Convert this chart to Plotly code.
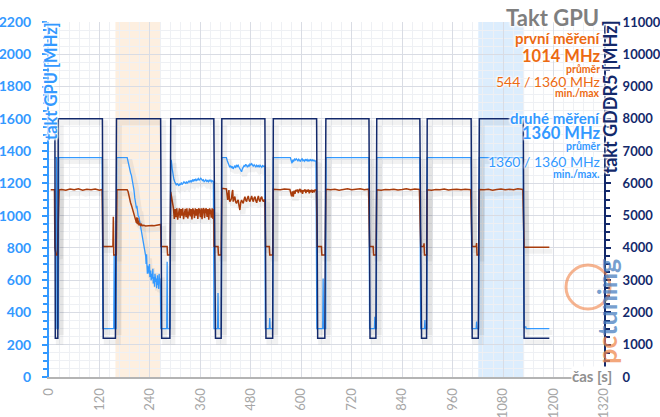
import plotly.graph_objects as go

# ---------------- data ----------------
# GDDR5 memory clock (right axis) [MHz]
mem_t = [14, 15, 21, 22, 127, 129, 158, 160.5, 265.5, 268, 287.5, 289.5, 392, 396, 409.5, 411,
         513.5, 516, 532, 533.5, 636.5, 639, 656, 658.5, 761, 763.5, 777.5, 779.5, 882, 886,
         898, 899.5, 1004, 1006.5, 1021, 1023.5, 1128, 1130, 1190]
mem_v = [8000, 1200, 1200, 8000, 8000, 1200, 1200, 8000, 8000, 1200, 1200, 8000, 8000, 1200, 1200, 8000,
         8000, 1200, 1200, 8000, 8000, 1200, 1200, 8000, 8000, 1200, 1200, 8000, 8000, 1200,
         1200, 8000, 8000, 1200, 1200, 8000, 8000, 1200, 1200]

# GPU clock - blue series [MHz]
gpu_b_t = [14, 18, 19, 22, 23, 126.5, 128, 154, 155, 156, 159.5, 161,
           186, 188, 190, 192, 194, 196, 198, 200, 202, 204, 206, 208, 209, 210, 211, 212, 214, 216, 218, 220,
           222, 224, 226, 228, 230, 231, 232, 233, 234, 235, 236, 238, 239, 240, 242, 243, 244, 246, 247, 248,
           250, 251, 252, 254, 255, 256, 258, 259, 260, 261, 262, 263, 264, 265,
           266, 280, 281, 282, 288, 289.5,
           291, 293, 295, 297, 299, 301, 303, 305, 307, 309, 311, 313, 315, 317, 319, 321, 323, 325, 327, 329,
           331, 333, 335, 337, 339, 341, 343, 345, 347, 349, 351, 353, 355, 357, 359, 361, 363, 365, 367, 369,
           371, 373, 375, 377, 379, 381, 383, 385, 387, 389, 391,
           392.5, 401, 402, 403, 410, 411,
           422, 424, 426, 428, 430, 432, 434, 436, 438, 440, 442, 444, 446, 448, 450, 452, 454, 456, 458, 460,
           462, 464, 466, 468, 470, 472, 474, 476, 478, 480, 482, 484, 486, 488, 490, 492, 494, 496, 498, 500,
           502, 504, 506, 508, 510, 512, 513.5,
           514.5, 524, 525, 526, 532, 533.5,
           574, 576, 578, 580, 582, 584, 586, 588, 590, 592, 594, 596, 598, 600, 602, 604, 606, 608, 610, 612,
           614, 616, 618, 620, 622, 624, 626, 628, 630, 632, 635,
           637, 651, 652, 653, 658, 659,
           761, 762.5, 774, 775, 776, 778.5, 779.5,
           882, 884, 893, 894, 895, 898.5, 899.5,
           1004, 1006, 1016, 1017, 1018, 1022, 1023.5,
           1128, 1130, 1131, 1134, 1135, 1190]
gpu_b_v = [1360, 1360, 300, 300, 1360, 1360, 300, 300, 760, 300, 300, 1360,
           1360, 1330, 1300, 1285, 1265, 1250, 1225, 1205, 1160, 1110, 1080, 1045, 1060, 1020, 1050, 1000, 990, 960, 930, 890,
           870, 845, 810, 780, 750, 700, 760, 690, 640, 690, 660, 640, 700, 620, 660, 600, 640, 610, 670, 580,
           620, 560, 640, 590, 610, 550, 630, 570, 600, 545, 640, 580, 610, 560,
           300, 300, 715, 300, 300, 1345,
           1340, 1290, 1250, 1225, 1210, 1195, 1188, 1200, 1192, 1185, 1198, 1190, 1205, 1195, 1200, 1210, 1205, 1198, 1212, 1200,
           1208, 1215, 1205, 1218, 1210, 1220, 1212, 1225, 1218, 1228, 1215, 1222, 1230, 1220, 1226, 1232, 1225, 1218, 1222, 1210,
           1215, 1222, 1212, 1218, 1210, 1220, 1214, 1222, 1210, 1216, 1212,
           300, 300, 520, 300, 300, 1360,
           1360, 1340, 1325, 1310, 1300, 1310, 1295, 1305, 1290, 1300, 1310, 1295, 1315, 1305, 1312, 1300, 1290, 1280, 1272, 1290,
           1300, 1310, 1305, 1318, 1310, 1300, 1312, 1305, 1320, 1314, 1322, 1310, 1305, 1315, 1308, 1302, 1312, 1305, 1310, 1300,
           1312, 1305, 1300, 1310, 1305, 1308, 1305,
           300, 300, 366, 300, 300, 1360,
           1360, 1340, 1325, 1345, 1338, 1350, 1345, 1352, 1348, 1340, 1350, 1345, 1335, 1348, 1352, 1340, 1345, 1338, 1350, 1342,
           1348, 1336, 1345, 1340, 1350, 1338, 1346, 1340, 1344, 1338, 1340,
           300, 300, 611, 300, 300, 1360,
           1360, 300, 300, 374, 300, 300, 1360,
           1360, 300, 300, 353, 300, 300, 1360,
           1360, 300, 300, 343, 300, 300, 1360,
           1360, 300, 310, 310, 300, 300]

# GPU clock - brown series [MHz]
gpu_o_t = [4, 13, 14, 16, 17, 20, 22, 24,
           30, 40, 50, 60, 70, 80, 90, 100, 110, 120, 126.5,
           128, 152, 153, 154, 160, 161.5,
           186, 188, 190, 192, 194, 196, 198, 200, 202, 204, 206, 208, 209, 210, 211, 212, 213, 214, 216, 218,
           220, 222, 225, 230, 235, 240, 245, 250, 255, 260, 264, 265.5,
           266.5, 281, 282, 288, 289.5, 292, 294,
           296, 298, 300, 302, 304, 306, 308, 310, 312, 314, 316, 318, 320, 322, 324, 326, 328, 330, 332, 334,
           336, 338, 340, 342, 344, 346, 348, 350, 352, 354, 356, 358, 360, 362, 364, 366, 368, 370, 372, 374,
           376, 378, 380, 382, 384, 386, 388, 390, 392,
           392.5, 402, 403, 409.5, 411,
           422, 424, 425, 427, 428, 429, 430, 432, 434, 436, 437, 438, 440, 442, 444, 446, 448, 450, 452, 454,
           456, 458, 460, 462, 464, 466, 468, 470, 472, 474, 476, 478, 480, 482, 484, 486, 488, 490, 492, 494,
           496, 498, 500, 502, 504, 506, 508, 510, 512, 513.5,
           515, 524, 525, 532, 533.5,
           540, 550, 560, 573, 575, 577, 579, 581, 583, 585, 587, 589, 591, 593, 595, 597, 599, 601, 603, 605,
           607, 609, 611, 613, 615, 617, 619, 621, 623, 625, 627, 629, 631, 633, 636,
           638, 648, 649, 657, 658.5,
           670, 680, 690, 700, 710, 720, 730, 740, 750, 760,
           762.5, 771, 772, 778, 779.5,
           790, 800, 810, 820, 830, 840, 850, 860, 870, 881,
           884, 891, 892, 893, 898.5, 899.5,
           910, 920, 930, 940, 950, 960, 970, 980, 990, 1003,
           1006, 1016, 1017, 1018, 1022, 1023.5,
           1035, 1045, 1055, 1065, 1075, 1085, 1095, 1105, 1115, 1127,
           1130, 1190]
gpu_o_v = [1160, 1160, 800, 780, 756, 756, 1000, 1160,
           1162, 1158, 1165, 1160, 1166, 1158, 1163, 1160, 1165, 1158, 1162,
           808, 808, 993, 756, 756, 1160,
           1160, 1150, 1120, 1100, 1080, 1065, 1045, 1020, 1000, 985, 965, 955, 990, 948, 985, 945, 970, 940, 955, 935,
           945, 938, 940, 936, 938, 937, 939, 938, 940, 942, 944, 945,
           808, 808, 756, 756, 1148, 1110, 1060,
           1045, 980, 1040, 990, 1045, 975, 1030, 1045, 985, 1040, 1000, 1045, 978, 1035, 1042, 990, 1045, 982, 1038, 1045,
           995, 1040, 976, 1045, 1030, 985, 1045, 1000, 1040, 980, 1045, 1035, 990, 1045, 978, 1040, 1045, 985, 1038, 1045,
           992, 1040, 975, 1045, 1030, 988, 1045, 980, 1040,
           808, 808, 756, 756, 1169,
           1165, 1120, 1097, 1140, 1159, 1100, 1087, 1095, 1107, 1150, 1159, 1087, 1100, 1118, 1085, 1076, 1090, 1097, 1060, 1035,
           1080, 1097, 1085, 1076, 1100, 1118, 1095, 1087, 1110, 1122, 1095, 1087, 1105, 1122, 1100, 1087, 1110, 1118, 1092, 1080,
           1105, 1122, 1095, 1087, 1110, 1118, 1095, 1087, 1100, 1095,
           808, 808, 756, 756, 1163,
           1162, 1160, 1165, 1162, 1140, 1120, 1150, 1118, 1155, 1135, 1160, 1150, 1162, 1140, 1158, 1165, 1145, 1160, 1135, 1158,
           1150, 1163, 1140, 1160, 1148, 1162, 1138, 1158, 1150, 1160, 1142, 1158, 1150, 1160, 1158,
           808, 808, 756, 756, 1163,
           1160, 1164, 1158, 1162, 1166, 1160, 1163, 1167, 1161, 1164,
           808, 808, 756, 756, 1160,
           1158, 1162, 1160, 1164, 1159, 1162, 1166, 1161, 1165, 1162,
           808, 808, 828, 756, 756, 1160,
           1158, 1162, 1160, 1165, 1159, 1162, 1164, 1160, 1163, 1161,
           808, 808, 830, 756, 756, 1162,
           1160, 1163, 1158, 1162, 1165, 1160, 1164, 1161, 1166, 1162,
           804, 804]

# highlighted intervals [s]
band_first = [158, 266]
band_second = [1021, 1130]

x_ticks = list(range(0, 1321, 120))

# ---------------- styling ----------------
NAVY = "#13296b"
BLUE = "#3399ff"
BROWN = "#a83c0c"
ORANGE = "#ec6a12"
FONT = "Lato"
SH = "1px 1px 2px white, -1px -1px 2px white, 1px -1px 2px white, -1px 1px 2px white"

L, R, T, B = 49, 56, 22, 40
W, H = 660, 417
PW, PH = W - L - R, H - T - B


def px(xpx):
    return (xpx - L) / PW


def py(ypx):
    return (H - B - ypx) / PH


fig = go.Figure()

# soft drop shadows under the lines (same data, nudged a few pixels down/right)
SHADOW = "rgba(0,0,0,0.05)"
dx = 3 * 1320 / PW
for tt, vv, ax, rng in ((gpu_b_t, gpu_b_v, "y", 2200), (gpu_o_t, gpu_o_v, "y", 2200), (mem_t, mem_v, "y2", 11000)):
    dy = 4 * rng / PH
    fig.add_trace(go.Scatter(x=[t + dx for t in tt], y=[v - dy for v in vv], mode="lines",
                             line=dict(color=SHADOW, width=5), yaxis=ax, hoverinfo="skip", showlegend=False))

fig.add_trace(go.Scatter(x=gpu_b_t, y=gpu_b_v, mode="lines", line=dict(color=BLUE, width=1.3),
                         yaxis="y", hoverinfo="skip", showlegend=False))
fig.add_trace(go.Scatter(x=gpu_o_t, y=gpu_o_v, mode="lines", line=dict(color=BROWN, width=1.5),
                         yaxis="y", hoverinfo="skip", showlegend=False))
fig.add_trace(go.Scatter(x=mem_t, y=mem_v, mode="lines", line=dict(color=NAVY, width=1.5),
                         yaxis="y2", hoverinfo="skip", showlegend=False))

for band, col in ((band_first, "rgba(248,190,130,0.25)"), (band_second, "rgba(140,195,250,0.30)")):
    fig.add_shape(type="rect", xref="x", yref="paper", x0=band[0], x1=band[1], y0=0, y1=1,
                  fillcolor=col, line=dict(width=0), layer="between")

ann = []


def txt(s, ypx, color, size, bold=True, xpx=601):
    ann.append(dict(text=s, xref="paper", yref="paper",
                    x=px(xpx), y=py(ypx), xanchor="right", yanchor="middle",
                    showarrow=False, borderpad=0,
                    font=dict(family=FONT, size=size, color=color, shadow=SH,
                              weight="bold" if bold else "normal")))


txt("Takt GPU", 17, "#7f7f7f", 22, xpx=600)
txt("první měření", 38, ORANGE, 15)
txt("1014 MHz", 56, ORANGE, 16.5)
txt("průměr", 69, ORANGE, 10.5)
txt("544 / 1360 MHz", 81, ORANGE, 14, bold=False)
txt("min./max", 93.5, ORANGE, 10.5)
txt("druhé měření", 118, BLUE, 15)
txt("1360 MHz", 133, BLUE, 16.5)
txt("průměr", 146, BLUE, 10.5)
txt("1360 / 1360 MHz", 161, BLUE, 14, bold=False)
txt("min./max.", 173.5, BLUE, 10.5)

# axis titles drawn inside
ann.append(dict(text="takt GPU [MHz]", xref="paper", yref="paper", x=px(51), y=py(21),
                xanchor="center", yanchor="top", textangle=-90, showarrow=False, borderpad=0,
                font=dict(family=FONT, size=16.5, color=BLUE, shadow=SH, weight="bold")))
ann.append(dict(text="takt GDDR5 [MHz]", xref="paper", yref="paper", x=px(609), y=py(20),
                xanchor="center", yanchor="top", textangle=-90, showarrow=False, borderpad=0,
                font=dict(family=FONT, size=18, color=NAVY, shadow=SH, weight="bold")))
ann.append(dict(text="čas [s]", xref="paper", yref="paper", x=px(613), y=py(376),
                xanchor="right", yanchor="middle", showarrow=False, bgcolor="white", borderpad=0,
                font=dict(family=FONT, size=15, color="#909090", weight="bold")))
# watermark
ann.append(dict(text="<span style='color:#f08a50'>pc</span><span style='color:#4a7fc0'>tuning</span>",
                xref="paper", yref="paper", x=px(606), y=py(312), xanchor="center", yanchor="middle",
                textangle=-90, showarrow=False, opacity=0.75, borderpad=0,
                font=dict(family=FONT, size=27, weight="bold")))

fig.add_shape(type="circle", xref="paper", yref="paper", xsizemode="pixel", ysizemode="pixel",
              xanchor=px(588), yanchor=py(287), x0=-22, x1=22, y0=-22, y1=22,
              line=dict(color="rgba(240,130,70,0.6)", width=3), layer="above")

fig.update_layout(
    width=W, height=H, margin=dict(l=L, r=R, t=T, b=B, autoexpand=False),
    paper_bgcolor="white", plot_bgcolor="white",
    annotations=ann,
    xaxis=dict(range=[0, 1320], tickvals=x_ticks, tickangle=-90, automargin=False,
               tickfont=dict(family=FONT, size=13, color="#a6a6a6"),
               showgrid=True, gridcolor="#d9dce4", gridwidth=1,
               minor=dict(dtick=24, tick0=0, showgrid=True, gridcolor="#eef0f4"),
               showline=True, linecolor="#b4b4b4", linewidth=2, zeroline=False, ticks="",
               ticklabelstandoff=4),
    yaxis=dict(range=[0, 2200], dtick=200, automargin=False,
               tickfont=dict(family=FONT, size=14, color=BLUE, weight="bold"),
               showgrid=True, gridcolor="#d9dce4", gridwidth=1, zeroline=False,
               showline=True, linecolor=BLUE, linewidth=2,
               ticks="outside", ticklen=5, tickwidth=2, tickcolor=BLUE, ticklabelstandoff=8,
               minor=dict(dtick=50, ticks="outside", ticklen=4, tickwidth=2, tickcolor=BLUE,
                          showgrid=True, gridcolor="#eef0f4")),
    yaxis2=dict(range=[0, 11000], dtick=1000, overlaying="y", side="right", automargin=False,
                tickformat="d",
                tickfont=dict(family=FONT, size=13, color=NAVY, weight="bold"),
                showgrid=False, zeroline=False, showline=True, linecolor=NAVY, linewidth=2,
                ticks="outside", ticklen=5, tickwidth=2, tickcolor=NAVY, ticklabelstandoff=9,
                minor=dict(dtick=250, ticks="outside", ticklen=4, tickwidth=2, tickcolor=NAVY)),
)

fig.write_html("out.html")
